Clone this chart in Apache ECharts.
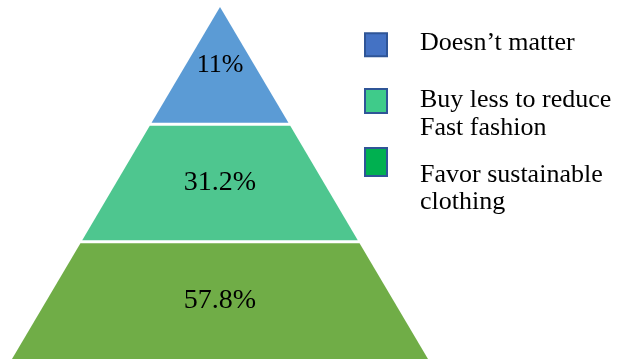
<!DOCTYPE html>
<html>
<head>
<meta charset="utf-8">
<script src="https://cdn.jsdelivr.net/npm/echarts@6/dist/echarts.min.js"></script>
<style>
  html, body { margin: 0; padding: 0; background: #ffffff; }
  #chart { width: 628px; height: 360px; }
</style>
</head>
<body>
<div id="chart"></div>
<script>
// Attitudes towards clothing purchases, drawn as a three-tier pyramid (apex first)
const categories = ['Doesn’t matter', 'Buy less to reduce\nFast fashion', 'Favor sustainable\nclothing'];
const shares = [11, 31.2, 57.8];

// Styling
const FONT = '"Liberation Serif", "Times New Roman", serif';
const tierColors = ['#5B9BD5', '#4EC68F', '#70AD47'];
const legendColors = ['#4472C4', '#3FCB8A', '#00B050'];
const labelSizes = [26, 28, 28];
const legendTops = [30, 73, 134];
const legendIconHeights = [23, 24, 28];
// Blank space above / below each legend text block, used to offset it from its swatch
const legendSpaceAbove = [0, 26.5, 53.5];
const legendSpaceBelow = [3.6, 0, 0];
const TIERS = categories.length;
const GAP = 3; // white space between tiers, px

const chart = echarts.init(document.getElementById('chart'), null, { renderer: 'canvas' });

// Half-width of the pyramid (in x-axis units) at height y (in tier units)
const halfWidth = y => (TIERS - y) / TIERS;

function lerp(a, b, t) {
  return [a[0] + (b[0] - a[0]) * t, a[1] + (b[1] - a[1]) * t];
}

function renderTier(params, api) {
  const tier = api.value(0);        // 0 = apex
  const value = api.value(1);
  const yTop = TIERS - tier;
  const yBottom = yTop - 1;
  const tl = api.coord([-halfWidth(yTop), yTop]);
  const tr = api.coord([halfWidth(yTop), yTop]);
  const bl = api.coord([-halfWidth(yBottom), yBottom]);
  const br = api.coord([halfWidth(yBottom), yBottom]);
  const h = bl[1] - tl[1];
  const insetTop = tier > 0 ? GAP / 2 : 0;
  const insetBottom = yBottom > 0 ? GAP / 2 : 0;
  const t0 = insetTop / h, t1 = 1 - insetBottom / h;
  const points = [lerp(tl, bl, t0), lerp(tr, br, t0), lerp(tr, br, t1), lerp(tl, bl, t1)];
  const cx = (tl[0] + tr[0]) / 2;
  const cy = (tl[1] + bl[1]) / 2;
  return {
    type: 'group',
    children: [
      {
        type: 'polygon',
        shape: { points: points },
        style: { fill: api.visual('color') }
      },
      {
        type: 'text',
        x: cx,
        y: cy,
        style: {
          text: value + '%',
          fill: '#000000',
          font: labelSizes[tier] + 'px ' + FONT,
          align: 'center',
          verticalAlign: 'middle'
        }
      }
    ]
  };
}

function legendText(name) {
  const i = categories.indexOf(name);
  const lines = name.split('\n').map(s => '{t|' + s + '}');
  if (legendSpaceAbove[i] > 0) lines.unshift('{a| }');
  if (legendSpaceBelow[i] > 0) lines.push('{b| }');
  return lines.join('\n');
}

const option = {
  animation: false,
  backgroundColor: '#ffffff',
  grid: { left: 12, right: 200, top: 7, bottom: 1 },
  xAxis: { type: 'value', min: -1, max: 1, show: false },
  yAxis: { type: 'value', min: 0, max: TIERS, show: false },
  legend: categories.map((name, i) => ({
    data: [{
      name: name,
      itemStyle: { color: legendColors[i], borderColor: '#2F5597', borderWidth: 2 }
    }],
    left: 364,
    top: legendTops[i],
    padding: 0,
    icon: 'rect',
    itemWidth: 22,
    itemHeight: legendIconHeights[i],
    selectedMode: false,
    formatter: legendText,
    textStyle: {
      padding: [0, 0, 0, 28],
      rich: {
        t: { fontFamily: FONT, fontSize: 26, lineHeight: 27.5, color: '#000000' },
        a: { fontSize: 1, lineHeight: legendSpaceAbove[i] },
        b: { fontSize: 1, lineHeight: legendSpaceBelow[i] }
      }
    }
  })),
  series: categories.map((name, i) => ({
    type: 'custom',
    name: name,
    itemStyle: { color: tierColors[i] },
    renderItem: renderTier,
    data: [[i, shares[i]]]
  }))
};

chart.setOption(option);
</script>
</body>
</html>
